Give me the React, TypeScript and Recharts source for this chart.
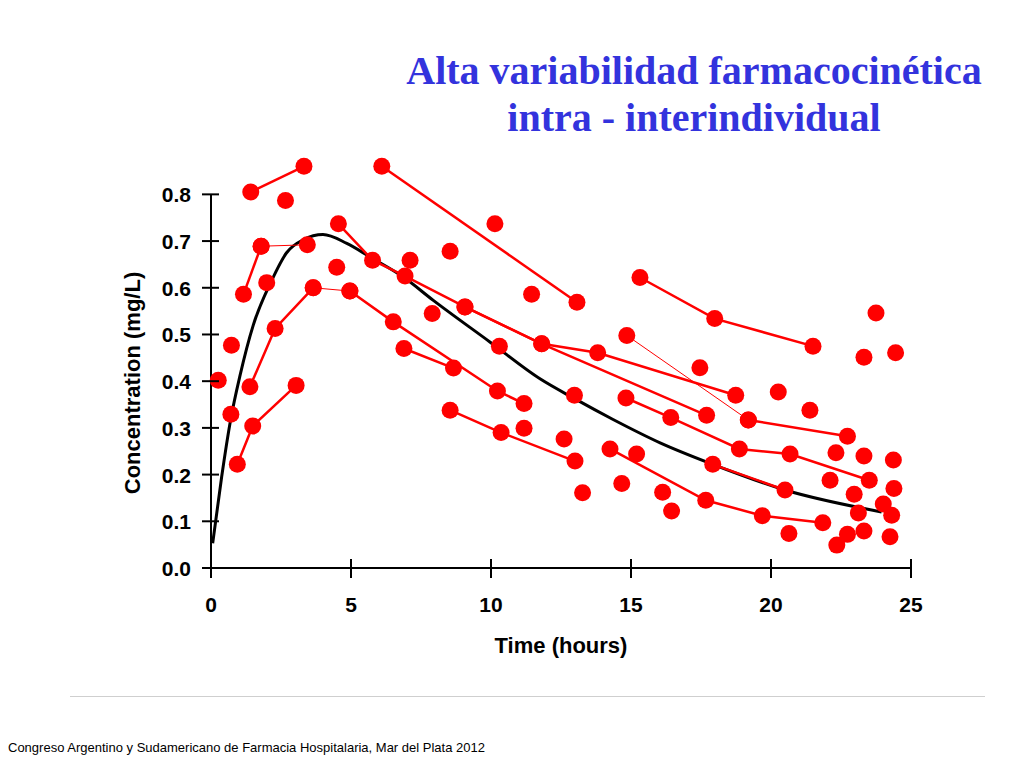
import { ComposedChart, Line, Scatter, XAxis, YAxis, ReferenceLine } from "recharts"

type Pt = { t: number; c: number }

const toPts = (rows: number[][]): Pt[] => rows.map(([t, c]) => ({ t, c }))

const xTicks = [0, 5, 10, 15, 20, 25]
const yTicks = [0, 0.1, 0.2, 0.3, 0.4, 0.5, 0.6, 0.7, 0.8]
const yTop = 0.88 // headroom above the last tick for the highest samples

// mean population curve
const meanCurve = toPts([
  [0.06, 0.053], [0.38, 0.195], [0.7, 0.317], [1.04, 0.413], [1.51, 0.52],
  [2.17, 0.616], [2.7, 0.675], [3.3, 0.703], [4.0, 0.714], [4.85, 0.695],
  [5.68, 0.666], [6.87, 0.623], [7.94, 0.573], [9.96, 0.484], [11.75, 0.405],
  [13.0, 0.362], [14.36, 0.318], [16.04, 0.268], [17.92, 0.222], [20.5, 0.167],
  [23.95, 0.12],
])

// individual patient profiles (connected samples)
const profiles: Pt[][] = [
  toPts([[1.42, 0.805], [3.32, 0.86]]),
  toPts([[6.1, 0.86], [13.07, 0.569]]),
  toPts([[4.55, 0.737], [5.77, 0.659], [6.93, 0.625], [9.07, 0.559], [11.81, 0.48], [13.81, 0.461], [18.74, 0.37]]),
  toPts([[9.07, 0.559], [11.81, 0.48], [17.7, 0.327]]),
  toPts([[1.16, 0.586], [1.79, 0.689]]),
  toPts([[1.39, 0.388], [2.29, 0.513], [3.65, 0.6]]),
  toPts([[4.96, 0.593], [6.51, 0.527], [10.23, 0.379], [11.18, 0.352]]),
  toPts([[0.94, 0.222], [1.49, 0.304], [3.04, 0.391]]),
  toPts([[6.89, 0.47], [8.66, 0.428]]),
  toPts([[8.54, 0.338], [10.36, 0.29], [13.0, 0.229]]),
  toPts([[15.32, 0.622], [17.99, 0.534], [21.5, 0.475]]),
  toPts([[19.19, 0.317], [22.73, 0.282]]),
  toPts([[14.82, 0.364], [16.42, 0.322], [18.87, 0.255], [20.68, 0.244], [23.51, 0.188]]),
  toPts([[14.25, 0.255], [17.67, 0.145], [19.69, 0.112], [21.85, 0.097]]),
  toPts([[17.92, 0.222], [20.5, 0.167]]),
]

// thin connectors between samples
const thinLinks: Pt[][] = [
  toPts([[1.79, 0.689], [3.44, 0.692]]),
  toPts([[3.65, 0.6], [4.96, 0.593]]),
  toPts([[14.85, 0.498], [19.19, 0.317]]),
]

// unconnected samples
const singles = toPts([
  [0.26, 0.402], [0.73, 0.477], [0.71, 0.329], [2.66, 0.787], [1.99, 0.611],
  [4.49, 0.644], [7.11, 0.659], [7.9, 0.545], [8.54, 0.678], [10.14, 0.737],
  [11.45, 0.586], [10.3, 0.475], [12.98, 0.37], [11.18, 0.299], [12.61, 0.276],
  [13.27, 0.161], [15.2, 0.244], [14.67, 0.181], [16.13, 0.162], [16.45, 0.122],
  [17.46, 0.429], [20.26, 0.377], [21.39, 0.338], [23.75, 0.546], [23.32, 0.451],
  [24.45, 0.461], [22.32, 0.247], [23.32, 0.24], [24.37, 0.231], [22.11, 0.188],
  [24.39, 0.17], [22.97, 0.158], [24.01, 0.137], [23.12, 0.118], [24.31, 0.113],
  [20.64, 0.074], [22.73, 0.072], [23.32, 0.079], [22.35, 0.049], [24.25, 0.067],
])

const allSamples = [...profiles.flat(), ...thinLinks.flat(), ...singles]

const RED = "#ff0000"
const axisFont = '"Liberation Sans", Arial, sans-serif'

const YTick = (props: any) => {
  const { x, y, payload } = props
  return (
    <g>
      <line x1={x - 9} x2={x + 8} y1={y} y2={y} stroke="#000" strokeWidth={2} />
      <text x={x - 20} y={y} dy={8} textAnchor="end" fontFamily={axisFont} fontWeight="bold" fontSize={21} fill="#000">
        {Number(payload.value).toFixed(1)}
      </text>
    </g>
  )
}

const XTick = (props: any) => {
  const { x, y, payload } = props
  return (
    <g>
      <line x1={x} x2={x} y1={y - 9} y2={y + 10} stroke="#000" strokeWidth={2} />
      <text x={x} y={y + 44} textAnchor="middle" fontFamily={axisFont} fontWeight="bold" fontSize={21} fill="#000">
        {payload.value}
      </text>
    </g>
  )
}

const Dot = (props: any) => <circle cx={props.cx} cy={props.cy} r={8.5} fill={RED} />

export default function App() {
  return (
    <div style={{ position: "absolute", left: 0, top: 0, width: 1024, height: 768, background: "#fff", overflow: "hidden" }}>
      <div
        style={{
          position: "absolute",
          left: 394,
          top: 47,
          width: 600,
          textAlign: "center",
          fontFamily: '"Liberation Serif", "Times New Roman", serif',
          fontWeight: "bold",
          fontSize: 40,
          lineHeight: "47px",
          color: "#3333dd",
        }}
      >
        Alta variabilidad farmacocinética
        <br />
        intra - interindividual
      </div>

      <ComposedChart width={1024} height={768} margin={{ top: 157, right: 113, bottom: 170, left: 0 }}>
        <XAxis
          type="number"
          dataKey="t"
          domain={[0, 25]}
          ticks={xTicks}
          height={30}
          axisLine={{ stroke: "#000", strokeWidth: 2 }}
          tickLine={false}
          tickSize={0}
          tickMargin={0}
          tick={<XTick />}
        />
        <YAxis
          type="number"
          dataKey="c"
          domain={[0, yTop]}
          ticks={yTicks}
          width={211}
          axisLine={false}
          tickLine={false}
          tickSize={0}
          tickMargin={0}
          tick={<YTick />}
        />
        {/* vertical axis only runs up to the 0.8 tick */}
        <ReferenceLine segment={[{ x: 0, y: 0 }, { x: 0, y: 0.8 }]} stroke="#000" strokeWidth={2} />
        <Line data={meanCurve} dataKey="c" type="monotone" stroke="#000" strokeWidth={3} dot={false} isAnimationActive={false} />
        {profiles.map((p, i) => (
          <Line key={"p" + i} data={p} dataKey="c" type="linear" stroke={RED} strokeWidth={2.5} dot={false} isAnimationActive={false} />
        ))}
        {thinLinks.map((p, i) => (
          <Line key={"t" + i} data={p} dataKey="c" type="linear" stroke={RED} strokeWidth={1} dot={false} isAnimationActive={false} />
        ))}
        <Scatter data={allSamples} dataKey="c" shape={<Dot />} isAnimationActive={false} />
      </ComposedChart>

      <div
        style={{
          position: "absolute",
          left: 0,
          top: 383,
          width: 266,
          transform: "translate(0, -50%) rotate(-90deg)",
          transformOrigin: "center",
          textAlign: "center",
          fontFamily: axisFont,
          fontWeight: "bold",
          fontSize: 22,
          lineHeight: "26px",
          color: "#000",
        }}
      >
        Concentration (mg/L)
      </div>
      <div
        style={{
          position: "absolute",
          left: 411,
          top: 633,
          width: 300,
          textAlign: "center",
          fontFamily: axisFont,
          fontWeight: "bold",
          fontSize: 22,
          color: "#000",
        }}
      >
        Time (hours)
      </div>

      <div style={{ position: "absolute", left: 70, top: 696, width: 915, height: 1, background: "#cfcfcf" }} />
      <div
        style={{
          position: "absolute",
          left: 8,
          top: 740,
          fontFamily: axisFont,
          fontSize: 13,
          color: "#000",
          whiteSpace: "nowrap",
        }}
      >
        Congreso Argentino y Sudamericano de Farmacia Hospitalaria, Mar del Plata 2012
      </div>
    </div>
  )
}
